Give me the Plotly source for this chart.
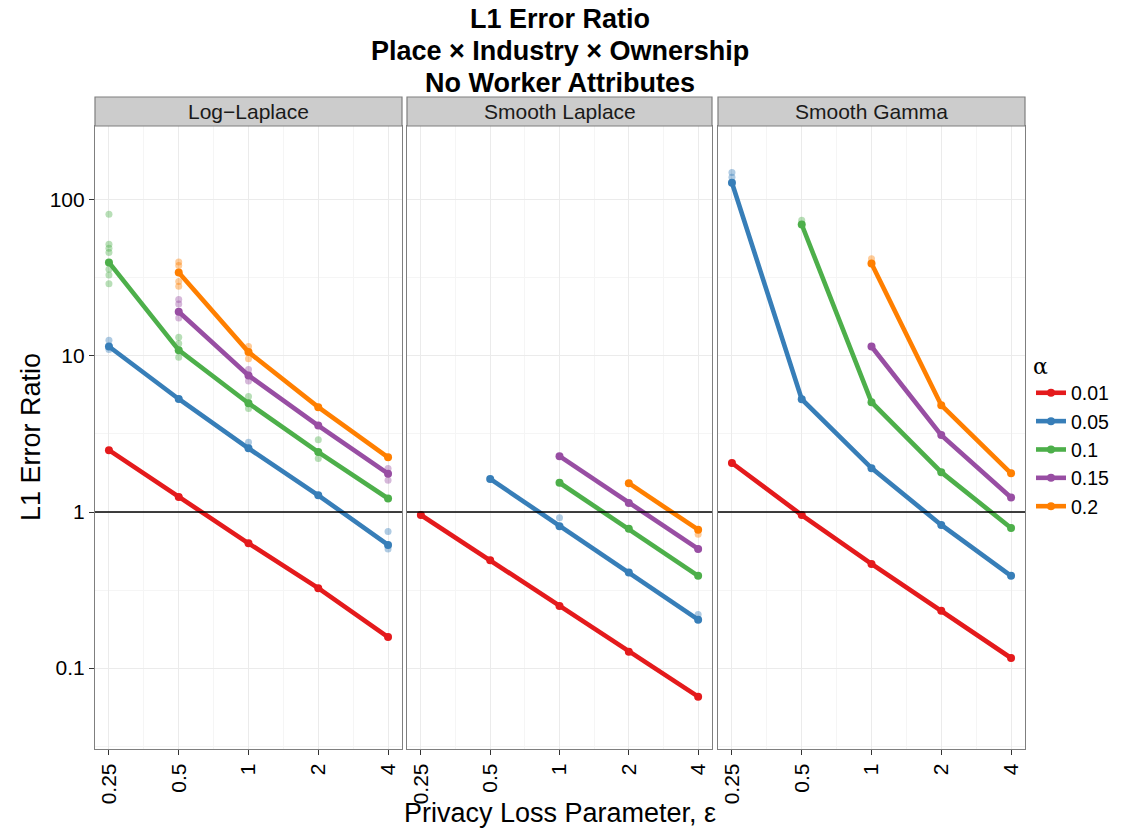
import math
import plotly.graph_objects as go

# ---------------- data ----------------
EPS = [0.25, 0.5, 1, 2, 4]
EPS_LABELS = ["0.25", "0.5", "1", "2", "4"]
ALPHA_LABELS = ["0.01", "0.05", "0.1", "0.15", "0.2"]
COLORS = ["#E41A1C", "#377EB8", "#4DAF4A", "#984EA3", "#FF7F00"]
FACETS = ["Log\u2212Laplace", "Smooth Laplace", "Smooth Gamma"]
Y_TICKS = [0.1, 1, 10, 100]
Y_TICK_LABELS = ["0.1", "1", "10", "100"]
REFERENCE_RATIO = 1

# median L1 error ratio, rows = alpha, columns = epsilon
LOG_LAPLACE = [
    [2.49, 1.25, 0.63, 0.325, 0.158],
    [11.5, 5.3, 2.56, 1.28, 0.615],
    [39.8, 10.9, 4.98, 2.42, 1.22],
    [None, 19.2, 7.5, 3.58, 1.76],
    [None, 34.3, 10.6, 4.7, 2.24],
]
SMOOTH_LAPLACE = [
    [0.957, 0.49, 0.25, 0.127, 0.0655],
    [None, 1.63, 0.81, 0.41, 0.204],
    [None, None, 1.54, 0.78, 0.39],
    [None, None, 2.28, 1.14, 0.58],
    [None, None, None, 1.53, 0.77],
]
SMOOTH_GAMMA = [
    [2.06, 0.956, 0.465, 0.233, 0.116],
    [129, 5.28, 1.91, 0.826, 0.39],
    [None, 69.6, 5.06, 1.8, 0.79],
    [None, None, 11.5, 3.11, 1.24],
    [None, None, 39.2, 4.84, 1.77],
]

# individual replicate runs that stand out from the median (alpha index, epsilon, value)
LOG_LAPLACE_SPREAD_ALPHA = [2, 2, 2, 2, 2, 2, 2, 1, 1, 4, 4, 4, 4, 3, 3, 3, 2, 2, 2, 4, 4, 3, 3, 2, 2, 1, 2, 2, 1, 1, 3, 3]
LOG_LAPLACE_SPREAD_EPS = [0.25, 0.25, 0.25, 0.25, 0.25, 0.25, 0.25, 0.25, 0.25, 0.5, 0.5, 0.5, 0.5, 0.5, 0.5, 0.5, 0.5, 0.5, 0.5, 1, 1, 1, 1, 1, 1, 1, 2, 2, 4, 4, 4, 4]
LOG_LAPLACE_SPREAD_VALUE = [81, 52, 49, 46, 36, 33, 29, 12.6, 11, 40, 38, 30, 28, 23, 21.5, 17.5, 13.2, 12, 9.8, 11.5, 9.6, 8.2, 6.9, 5.5, 4.6, 2.8, 2.9, 2.2, 0.75, 0.58, 1.9, 1.6]
SMOOTH_LAPLACE_SPREAD_ALPHA = [1, 1, 4]
SMOOTH_LAPLACE_SPREAD_EPS = [1, 4, 4]
SMOOTH_LAPLACE_SPREAD_VALUE = [0.92, 0.22, 0.72]
SMOOTH_GAMMA_SPREAD_ALPHA = [1, 1, 2, 4]
SMOOTH_GAMMA_SPREAD_EPS = [0.25, 0.25, 0.5, 1]
SMOOTH_GAMMA_SPREAD_VALUE = [150, 140, 74, 42]

# ---------------- figure ----------------
FONT = "Liberation Sans, Arial, Helvetica, sans-serif"
W, H = 1128, 840
ML, MR, MT, MB = 95, 103, 126, 91
PH = H - MT - MB

def px_x(p):
    return (p - ML) / (W - ML - MR)

def py_y(p):
    return (H - MB - p) / PH

XDOMAINS = [[px_x(95), px_x(402)], [px_x(407), px_x(712)], [px_x(718), px_x(1025)]]

facet_data = [
    (LOG_LAPLACE, LOG_LAPLACE_SPREAD_ALPHA, LOG_LAPLACE_SPREAD_EPS, LOG_LAPLACE_SPREAD_VALUE),
    (SMOOTH_LAPLACE, SMOOTH_LAPLACE_SPREAD_ALPHA, SMOOTH_LAPLACE_SPREAD_EPS, SMOOTH_LAPLACE_SPREAD_VALUE),
    (SMOOTH_GAMMA, SMOOTH_GAMMA_SPREAD_ALPHA, SMOOTH_GAMMA_SPREAD_EPS, SMOOTH_GAMMA_SPREAD_VALUE),
]

fig = go.Figure()

for i, (vals, sa, se, sv) in enumerate(facet_data):
    xa = "x" if i == 0 else f"x{i+1}"
    ya = "y" if i == 0 else f"y{i+1}"
    # replicate spread points
    for j, col in enumerate(COLORS):
        xs = [e for a, e in zip(sa, se) if a == j]
        ys = [v for a, v in zip(sa, sv) if a == j]
        if xs:
            fig.add_trace(go.Scatter(
                x=xs, y=ys, xaxis=xa, yaxis=ya, mode="markers",
                marker=dict(color=col, size=7, opacity=0.4),
                showlegend=False, hoverinfo="skip", legendgroup=ALPHA_LABELS[j]))
    # median lines
    for j, col in enumerate(COLORS):
        fig.add_trace(go.Scatter(
            x=EPS, y=vals[j], xaxis=xa, yaxis=ya, mode="lines+markers",
            line=dict(color=col, width=4.6),
            marker=dict(color=col, size=8),
            name=ALPHA_LABELS[j], legendgroup=ALPHA_LABELS[j],
            showlegend=(i == 0)))

xr = [math.log10(EPS[0]) - 0.2 * math.log10(2), math.log10(EPS[-1]) + 0.2 * math.log10(2)]
minor_x = [math.sqrt(a * b) for a, b in zip(EPS[:-1], EPS[1:])]
yt_ext = [Y_TICKS[0] / 10] + Y_TICKS + [Y_TICKS[-1] * 10]
minor_y = [math.sqrt(a * b) for a, b in zip(yt_ext[:-1], yt_ext[1:])]
yr = [-1.519, 2.474]

BORDER = "#7F7F7F"
layout = dict(
    width=W, height=H,
    margin=dict(l=ML, r=MR, t=MT, b=MB, pad=0),
    paper_bgcolor="white", plot_bgcolor="white",
    font=dict(family=FONT, color="black"),
    showlegend=True,
    legend=dict(
        title=dict(text="\u03b1", font=dict(size=22, family="DejaVu Serif, serif")),
        x=px_x(1031), y=py_y(345), xanchor="left", yanchor="top",
        font=dict(size=19.5, family=FONT), itemwidth=30, tracegroupgap=0,
        bgcolor="rgba(0,0,0,0)"),
)
for i in range(3):
    sx = "" if i == 0 else str(i + 1)
    layout[f"xaxis{sx}"] = dict(
        domain=XDOMAINS[i], anchor=f"y{sx}", type="log", range=xr,
        tickmode="array", tickvals=EPS, ticktext=EPS_LABELS, tickangle=-90,
        ticks="outside", ticklen=5, tickcolor="#333333", tickwidth=1,
        tickfont=dict(size=21, color="black"),
        showgrid=True, gridcolor="#EBEBEB", gridwidth=1,
        minor=dict(tickmode="array", tickvals=minor_x, showgrid=True,
                   gridcolor="#F5F5F5", gridwidth=1, ticks=""),
        showline=True, mirror=True, linecolor=BORDER, linewidth=1.2,
        zeroline=False, automargin=False, fixedrange=True)
    layout[f"yaxis{sx}"] = dict(
        domain=[0, 1], anchor=f"x{sx}", type="log", range=yr,
        tickmode="array", tickvals=Y_TICKS, ticktext=Y_TICK_LABELS,
        ticks="outside" if i == 0 else "", ticklen=5, tickcolor="#333333",
        showticklabels=(i == 0), tickfont=dict(size=21, color="black"),
        showgrid=True, gridcolor="#EBEBEB", gridwidth=1,
        minor=dict(tickmode="array", tickvals=minor_y, showgrid=True,
                   gridcolor="#F5F5F5", gridwidth=1, ticks=""),
        showline=True, mirror=True, linecolor=BORDER, linewidth=1.2,
        zeroline=False, automargin=False, fixedrange=True)
fig.update_layout(**layout)

shapes = []
annotations = []
strip_h = 29 / PH
for i, name in enumerate(FACETS):
    sx = "" if i == 0 else str(i + 1)
    shapes.append(dict(type="rect", xref=f"x{sx} domain", yref="paper",
                       x0=0, x1=1, y0=1, y1=1 + strip_h,
                       fillcolor="#CCCCCC", line=dict(color=BORDER, width=1.2),
                       layer="above"))
    shapes.append(dict(type="line", xref=f"x{sx} domain", yref=f"y{sx}",
                       x0=0, x1=1, y0=REFERENCE_RATIO, y1=REFERENCE_RATIO,
                       line=dict(color="black", width=1.3), layer="above"))
    annotations.append(dict(text=name, xref=f"x{sx} domain", yref="paper",
                            x=0.5, y=1 + strip_h / 2, showarrow=False,
                            xanchor="center", yanchor="middle",
                            font=dict(size=21, color="#1A1A1A")))

TITLE_LINES = ["L1 Error Ratio", "Place \u00d7 Industry \u00d7 Ownership", "No Worker Attributes"]
for k, (t, yy) in enumerate(zip(TITLE_LINES, [19, 51, 83])):
    annotations.append(dict(text=f"<b>{t}</b>", xref="paper", yref="paper",
                            x=px_x(560), y=py_y(yy), showarrow=False,
                            xanchor="center", yanchor="middle",
                            font=dict(size=27, color="black")))

annotations.append(dict(text="Privacy Loss Parameter, \u03b5", xref="paper", yref="paper",
                        x=px_x(560), y=py_y(813), showarrow=False,
                        xanchor="center", yanchor="middle",
                        font=dict(size=27, color="black")))
annotations.append(dict(text="L1 Error Ratio", xref="paper", yref="paper",
                        x=px_x(31), y=py_y(437), showarrow=False, textangle=-90,
                        xanchor="center", yanchor="middle",
                        font=dict(size=27, color="black")))

fig.update_layout(shapes=shapes, annotations=annotations)
fig.write_html("out.html")
